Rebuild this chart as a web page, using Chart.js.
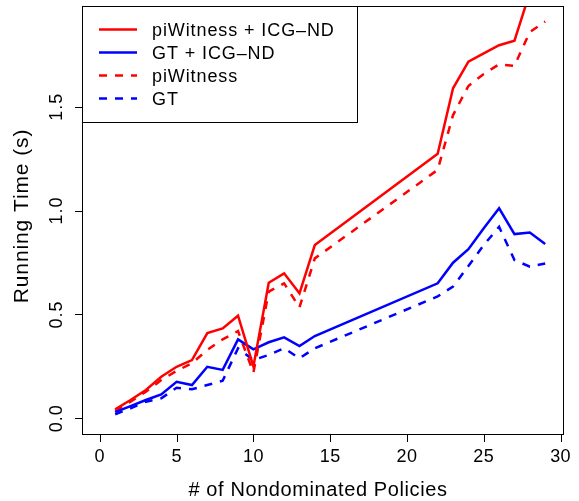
<!DOCTYPE html>
<html>
<head>
<meta charset="utf-8">
<script src="https://cdn.jsdelivr.net/npm/chart.js@4.4.1/dist/chart.umd.min.js"></script>
<style>
  html, body { margin: 0; padding: 0; background: #fff; }
  canvas { display: block; }
</style>
</head>
<body>
<canvas id="grafico" width="579" height="501"></canvas>
<script>
// numero de politicas nao dominadas (nao ha pontos entre 15 e 21)
const policies = [1, 2, 3, 4, 5, 6, 7, 8, 9, 10, 11, 12, 13, 14, 22, 23, 24, 25, 26, 27, 28, 29];

const piWitnessIcg = [0.043, 0.088, 0.136, 0.2, 0.248, 0.28, 0.41, 0.433, 0.494, 0.25, 0.653, 0.698, 0.602, 0.834, 1.274, 1.589, 1.717, 1.757, 1.796, 1.818, 2.05, null];
const gtIcg = [0.03, 0.059, 0.088, 0.115, 0.176, 0.16, 0.248, 0.233, 0.38, 0.332, 0.366, 0.39, 0.348, 0.396, 0.65, 0.749, 0.814, 0.915, 1.011, 0.887, 0.894, 0.839];
const piWitness = [0.035, 0.08, 0.128, 0.184, 0.228, 0.265, 0.329, 0.38, 0.42, 0.22, 0.61, 0.65, 0.534, 0.77, 1.196, 1.46, 1.6, 1.658, 1.704, 1.697, 1.86, 1.91];
const gt = [0.019, 0.048, 0.08, 0.096, 0.147, 0.14, 0.16, 0.181, 0.337, 0.281, 0.305, 0.337, 0.289, 0.337, 0.587, 0.634, 0.733, 0.834, 0.922, 0.762, 0.73, 0.745];

const xTicks = [0, 5, 10, 15, 20, 25, 30];
const yTicks = [0, 0.5, 1, 1.5];
const yTickLabels = ["0.0", "0.5", "1.0", "1.5"];

const series = [
    { label: "piWitness + ICG\u2013ND", values: piWitnessIcg, color: "#ff0000", dash: [] },
    { label: "GT + ICG\u2013ND", values: gtIcg, color: "#0000ff", dash: [] },
    { label: "piWitness", values: piWitness, color: "#ff0000", dash: [8, 8] },
    { label: "GT", values: gt, color: "#0000ff", dash: [8, 8] },
];

const FAMILY = "'Liberation Sans', Arial, Helvetica, sans-serif";

function toPoints(values) {
    return policies.map((p, i) => ({ x: p, y: values[i] }));
}

function setFont(ctx, size, spacing) {
    ctx.font = size + "px " + FAMILY;
    ctx.letterSpacing = spacing + "px";
}

// eixos, caixa e legenda no estilo do R
const rStyle = {
    id: "rStyle",
    afterDraw(chart) {
        const ctx = chart.ctx;
        const area = chart.chartArea;
        const x = chart.scales.x;
        const y = chart.scales.y;

        ctx.save();
        ctx.strokeStyle = "#000";
        ctx.lineWidth = 1;
        ctx.strokeRect(area.left + 0.5, area.top + 0.5, area.right - area.left, area.bottom - area.top);

        ctx.fillStyle = "#000";
        setFont(ctx, 18, 0.4);

        // eixo x
        ctx.beginPath();
        ctx.moveTo(Math.round(x.getPixelForValue(0)) + 0.5, area.bottom + 0.5);
        ctx.lineTo(Math.round(x.getPixelForValue(30)) + 0.5, area.bottom + 0.5);
        for (const t of xTicks) {
            const px = Math.round(x.getPixelForValue(t)) + 0.5;
            ctx.moveTo(px, area.bottom + 0.5);
            ctx.lineTo(px, area.bottom + 8);
        }
        ctx.stroke();
        ctx.textAlign = "center";
        ctx.textBaseline = "alphabetic";
        for (const t of xTicks) {
            ctx.fillText(String(t), x.getPixelForValue(t), 462);
        }

        // eixo y
        ctx.beginPath();
        ctx.moveTo(area.left + 0.5, Math.round(y.getPixelForValue(0)) + 0.5);
        ctx.lineTo(area.left + 0.5, Math.round(y.getPixelForValue(1.5)) + 0.5);
        for (const t of yTicks) {
            const py = Math.round(y.getPixelForValue(t)) + 0.5;
            ctx.moveTo(area.left + 0.5, py);
            ctx.lineTo(area.left - 7, py);
        }
        ctx.stroke();
        setFont(ctx, 18, 1);
        yTicks.forEach((t, i) => {
            ctx.save();
            ctx.translate(61.5, y.getPixelForValue(t));
            ctx.rotate(-Math.PI / 2);
            ctx.fillText(yTickLabels[i], 0, 0);
            ctx.restore();
        });

        // titulos
        setFont(ctx, 20, 0.6);
        ctx.fillText("# of Nondominated Policies", 318, 496);
        setFont(ctx, 21, 0.9);
        ctx.save();
        ctx.translate(28, 216);
        ctx.rotate(-Math.PI / 2);
        ctx.fillText("Running Time (s)", 0, 0);
        ctx.restore();

        // legenda
        const box = { left: area.left, top: area.top, right: 357, bottom: 122 };
        ctx.fillStyle = "#fff";
        ctx.fillRect(box.left + 0.5, box.top + 0.5, box.right - box.left, box.bottom - box.top);
        ctx.strokeStyle = "#000";
        ctx.strokeRect(box.left + 0.5, box.top + 0.5, box.right - box.left, box.bottom - box.top);
        setFont(ctx, 18, 0.9);
        const rows = [29.5, 52.5, 75.5, 98.5];
        series.forEach((s, i) => {
            ctx.beginPath();
            ctx.strokeStyle = s.color;
            ctx.lineWidth = 2.5;
            ctx.setLineDash(s.dash);
            ctx.moveTo(99, rows[i]);
            ctx.lineTo(137, rows[i]);
            ctx.stroke();
            ctx.setLineDash([]);
            ctx.fillStyle = "#000";
            ctx.textAlign = "left";
            ctx.fillText(s.label, 152, rows[i] + 6.5);
        });
        ctx.restore();
    },
};

new Chart(document.getElementById("grafico"), {
    type: "line",
    data: {
        datasets: series.map((s) => ({
            label: s.label,
            data: toPoints(s.values),
            borderColor: s.color,
            borderWidth: 2.5,
            borderDash: s.dash,
            pointRadius: 0,
            tension: 0,
            fill: false,
            spanGaps: false,
            clip: 0,
        })),
    },
    options: {
        responsive: false,
        animation: false,
        devicePixelRatio: 1,
        layout: {
            padding: { left: 82, right: 16, top: 6, bottom: 67 },
        },
        plugins: {
            legend: { display: false },
            tooltip: { enabled: false },
        },
        scales: {
            x: { type: "linear", min: -1.16, max: 30.16, display: false },
            y: { type: "linear", min: -0.0756, max: 1.985, display: false },
        },
    },
    plugins: [rStyle],
});
</script>
</body>
</html>
